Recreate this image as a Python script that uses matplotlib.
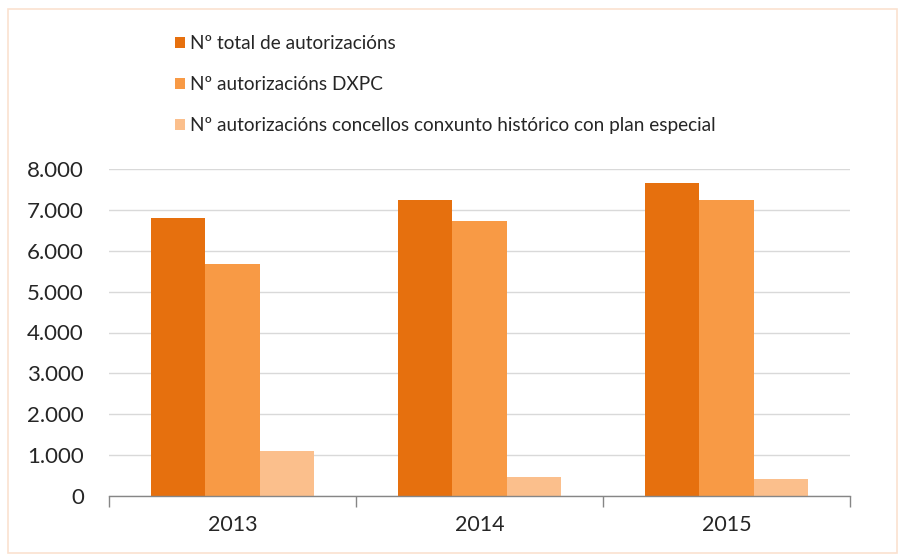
import matplotlib
matplotlib.use("Agg")
import matplotlib.pyplot as plt
from matplotlib.patches import Rectangle
import numpy as np

years = ["2013", "2014", "2015"]
series_names = [
    "Nº total de autorizacións",
    "Nº autorizacións DXPC",
    "Nº autorizacións concellos conxunto histórico con plan especial",
]
total = [6800, 7240, 7660]
dxpc = [5680, 6720, 7230]
historic = [1110, 460, 410]
yticks = [0, 1000, 2000, 3000, 4000, 5000, 6000, 7000, 8000]
ytick_labels = ["0", "1.000", "2.000", "3.000", "4.000", "5.000", "6.000", "7.000", "8.000"]

colors = ["#E6700E", "#F89A45", "#FBBF8C"]

plt.rcParams["font.family"] = ["Lato", "DejaVu Sans"]

fig = plt.figure(figsize=(8.99, 5.55), dpi=100)
ax = fig.add_axes([109 / 899, 1 - 496 / 555, (850 - 109) / 899, (496 - 169) / 555])

x = np.arange(len(years))
w = 0.22
handles = []
for i, (vals, c, name) in enumerate(zip([total, dxpc, historic], colors, series_names)):
    b = ax.bar(x + (i - 1) * w, vals, width=w, color=c, label=name, zorder=3)
    handles.append(b)

ax.set_xlim(-0.5, len(years) - 0.5)
ax.set_ylim(0, 8000)
ax.set_yticks(yticks)
ax.set_yticklabels(ytick_labels)
ax.tick_params(axis="y", length=0, pad=18, labelsize=16, labelcolor="#262626")

ax.set_xticks(np.arange(-0.5, len(years)), minor=False)
ax.set_xticklabels([""] * (len(years) + 1))
ax.set_xticks(x, minor=True)
ax.set_xticklabels(years, minor=True)
ax.tick_params(axis="x", which="major", length=8, width=1, color="#868686", direction="out")
ax.tick_params(axis="x", which="minor", length=0, pad=14, labelsize=15.5, labelcolor="#262626")

ax.grid(axis="y", color="#d9d9d9", linewidth=1, zorder=0)
for s in ["top", "right", "left"]:
    ax.spines[s].set_visible(False)
ax.spines["bottom"].set_color("#868686")
ax.spines["bottom"].set_linewidth(1)
ax.spines["bottom"].set_zorder(4)

leg = fig.legend(
    handles=handles,
    labels=series_names,
    loc="upper left",
    bbox_to_anchor=(175 / 899, 1 - 35 / 555),
    frameon=False,
    fontsize=13.7,
    handlelength=0.5,
    handleheight=0.5,
    handletextpad=0.3,
    labelspacing=1.27,
    borderpad=0,
    borderaxespad=0,
)
for t in leg.get_texts():
    t.set_color("#262626")

# outer chart frame
fig.patches.append(Rectangle((8 / 899, 2 / 555), 889 / 899, 544 / 555, transform=fig.transFigure,
                             fill=False, edgecolor="#fbe1cf", linewidth=1.2))

fig.savefig("out.png", dpi=100)
